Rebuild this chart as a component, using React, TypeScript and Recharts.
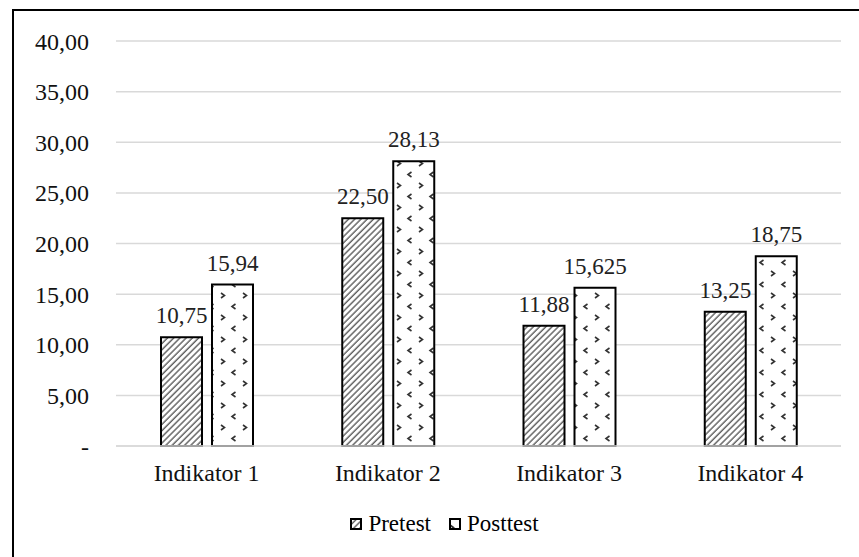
import React from "react";
import { BarChart, Bar, XAxis, YAxis, CartesianGrid, LabelList, Legend } from "recharts";

const categories = ["Indikator 1", "Indikator 2", "Indikator 3", "Indikator 4"];
const pretest = [10.75, 22.5, 11.88, 13.25];
const posttest = [15.94, 28.13, 15.625, 18.75];
const yTicks = [0, 5, 10, 15, 20, 25, 30, 35, 40];

const data = categories.map((name, i) => ({ name, pretest: pretest[i], posttest: posttest[i] }));

const FONT = "Liberation Serif";

const fmtTick = (v: number) => (v === 0 ? "-" : v.toFixed(2).replace(".", ","));
const fmtLabel = (v: number) => {
  const dec = (String(v).split(".")[1] || "").length;
  return dec > 2 ? String(v).replace(".", ",") : v.toFixed(2).replace(".", ",");
};

function Patterns() {
  return (
    <svg width={0} height={0} style={{ position: "absolute" }}>
      <defs>
        <pattern id="hatch" width={4.4} height={8} patternUnits="userSpaceOnUse" patternTransform="rotate(45)">
          <rect width={4.4} height={8} fill="#fff" />
          <line x1={1} y1={0} x2={1} y2={8} stroke="#404040" strokeWidth={1.2} />
        </pattern>
        <pattern id="dots" width={22} height={22} patternUnits="userSpaceOnUse" x={393} y={4}>
          <rect width={22} height={22} fill="#fff" />
          <path d="M4 3 L7.5 5.5 L4 8" stroke="#333" strokeWidth={1.6} fill="none" />
          <path d="M18.5 14 L15 16.5 L18.5 19" stroke="#333" strokeWidth={1.6} fill="none" />
        </pattern>
      </defs>
    </svg>
  );
}

function LegendContent() {
  const items = [
    { label: "Pretest", fill: "url(#hatch)" },
    { label: "Posttest", fill: "url(#dots)" },
  ];
  return (
    <div
      style={{
        display: "flex",
        justifyContent: "center",
        width: 859,
        paddingLeft: 30,
        paddingTop: 10,
        boxSizing: "border-box",
      }}
    >
      {items.map((it, i) => (
        <div key={it.label} style={{ display: "flex", alignItems: "center", marginRight: i === 0 ? 18 : 0 }}>
          <svg width={12} height={12} style={{ marginRight: 6 }}>
            <rect x={1} y={1} width={10} height={10} fill={it.fill} stroke="#000" strokeWidth={2} />
          </svg>
          <span style={{ fontFamily: FONT, fontSize: 23, color: "#000" }}>{it.label}</span>
        </div>
      ))}
    </div>
  );
}

export default function App() {
  return (
    <div style={{ position: "fixed", left: 0, top: 0, width: 859, height: 557, overflow: "hidden", background: "#fff", fontFamily: FONT }}>
      <Patterns />
      <div
        style={{
          position: "absolute",
          left: 12,
          top: 9,
          width: 900,
          height: 600,
          border: "2px solid #000",
        }}
      />
      <div style={{ position: "absolute", left: 0, top: 0 }}>
        <BarChart
          width={859}
          height={557}
          data={data}
          margin={{ top: 41, right: 18, left: 0, bottom: 16 }}
          barSize={41}
          barGap={10}
        >
          <CartesianGrid vertical={false} stroke="#d9d9d9" strokeWidth={1.5} />
          <YAxis
            domain={[0, 40]}
            ticks={yTicks}
            width={116}
            tickFormatter={fmtTick}
            axisLine={false}
            tickLine={false}
            tickSize={0}
            tickMargin={27}
            tick={{ fontFamily: FONT, fontSize: 24, fill: "#111" }}
            interval={0}
          />
          <XAxis
            dataKey="name"
            height={55}
            axisLine={{ stroke: "#d9d9d9", strokeWidth: 1.5 }}
            tickLine={false}
            tickSize={0}
            tickMargin={18}
            tick={{ fontFamily: FONT, fontSize: 24, fill: "#111" }}
          />
          <Legend verticalAlign="bottom" height={40} content={() => <LegendContent />} />
          <Bar dataKey="pretest" name="Pretest" fill="url(#hatch)" stroke="#000" strokeWidth={2} isAnimationActive={false}>
            <LabelList dataKey="pretest" position="top" offset={14} formatter={(v: any) => fmtLabel(Number(v))} style={{ fontFamily: FONT, fontSize: 23, fill: "#222" }} />
          </Bar>
          <Bar dataKey="posttest" name="Posttest" fill="url(#dots)" stroke="#000" strokeWidth={2} isAnimationActive={false}>
            <LabelList dataKey="posttest" position="top" offset={14} formatter={(v: any) => fmtLabel(Number(v))} style={{ fontFamily: FONT, fontSize: 23, fill: "#222" }} />
          </Bar>
        </BarChart>
      </div>
    </div>
  );
}
